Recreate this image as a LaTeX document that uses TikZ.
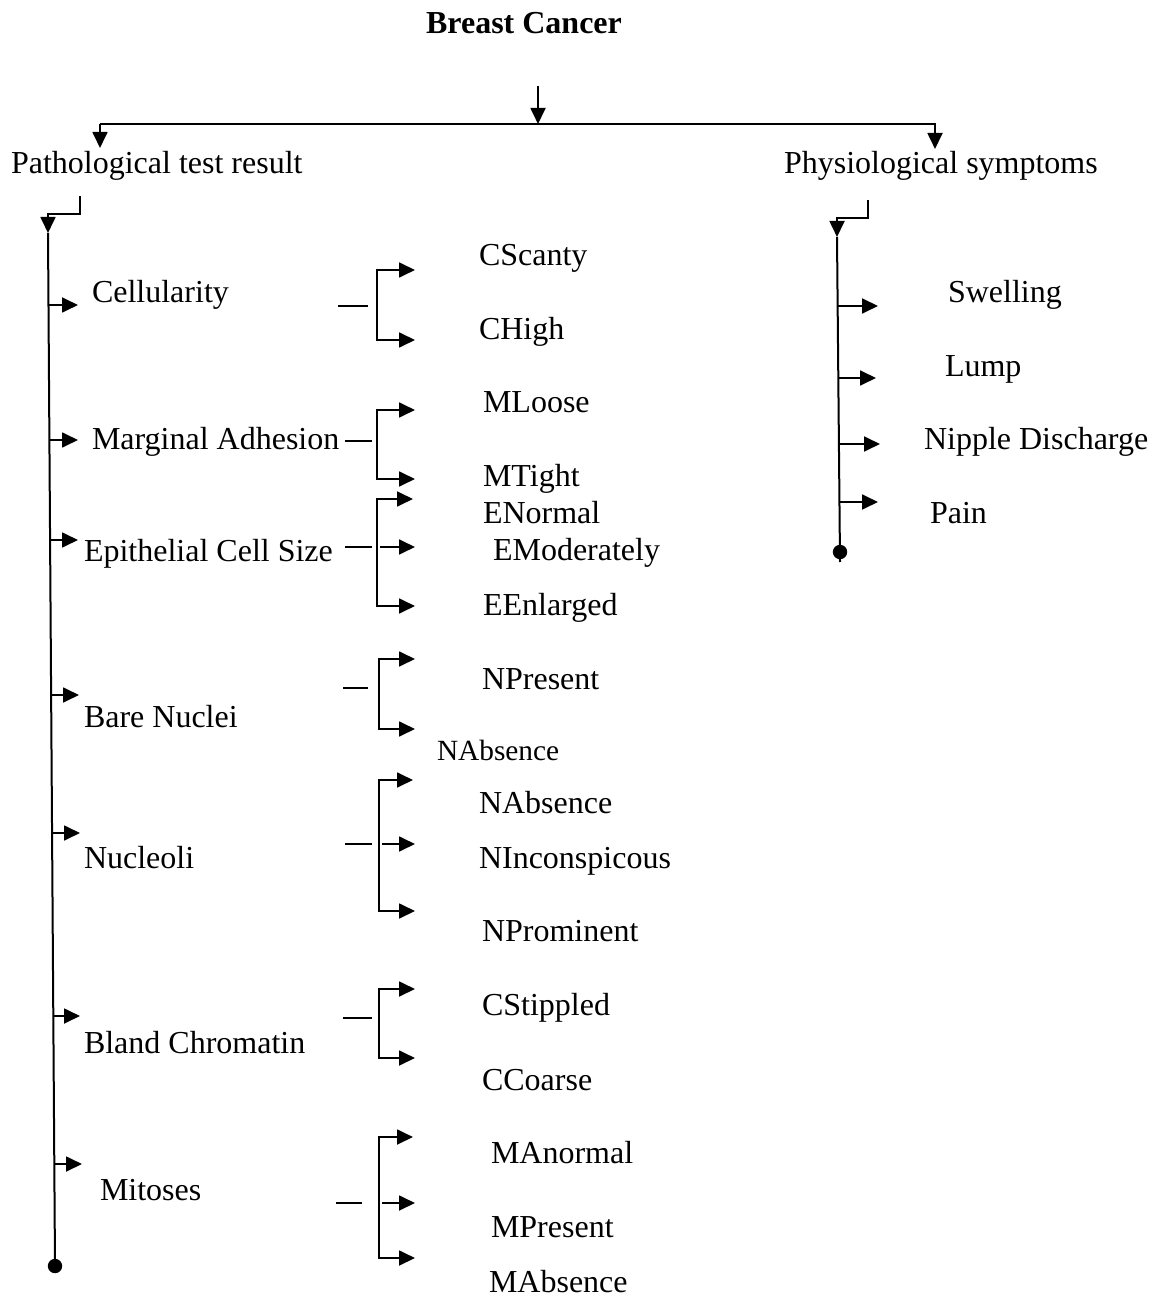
\documentclass[tikz,border=0pt]{standalone}
\usepackage{fontspec}
\setmainfont{Liberation Serif}
\usetikzlibrary{arrows.meta}
\begin{document}
\begin{tikzpicture}[x=0.375pt,y=-0.375pt,
  line width=0.75pt,
  arr/.style={-{Triangle[length=6pt,width=5.6pt]}},
  txt/.style={anchor=base west,inner sep=0pt,font=\fontsize{12}{14}\selectfont},
  smalltxt/.style={anchor=base west,inner sep=0pt,font=\fontsize{11}{13}\selectfont},
  title/.style={anchor=base,inner sep=0pt,font=\fontsize{12}{14}\selectfont\bfseries},
  enddot/.style={circle,fill,inner sep=0pt,minimum size=5.4pt}]
\useasboundingbox (0,0) rectangle (1158,1296);

% ---------- heading and first split ----------
\node[title] (root) at (524,34) {Breast Cancer};
\coordinate (rootdrop) at (538,86);
\coordinate (split) at (538,124);
\coordinate (splitL) at (100,124);
\coordinate (splitR) at (936,124);
\coordinate (pathIn) at (100,148);
\coordinate (physIn) at (935,149);
\draw[arr] (rootdrop) -- (split);
\draw (splitL) -- (splitR);
\draw[arr] (splitL) -- (pathIn);
\draw[arr] (935,124) -- (physIn);
\node[txt] (path) at (10,174) {Pathological test result};
\node[txt] (phys) at (783,174) {Physiological symptoms};

% ---------- left spine ----------
\coordinate (pE1) at (80,196);
\coordinate (pE2) at (48,214);
\coordinate (pTop) at (48,233);
\node[enddot] (pEnd) at (55,1266) {};
\draw[arr] (pE1) |- (pE2) -- (pTop);
\draw (pTop) -- (pEnd.center);

% categories
\node[txt] (cell) at (91,303) {Cellularity};
\node[txt] (marg) at (91,450) {Marginal Adhesion};
\node[txt] (epit) at (83,561) {Epithelial Cell Size};
\node[txt] (bare) at (83,727) {Bare Nuclei};
\node[txt] (nucl) at (83,868) {Nucleoli};
\node[txt] (blan) at (83,1053) {Bland Chromatin};
\node[txt] (mito) at (99,1200) {Mitoses};

\draw[arr] (48.5,305) -- (78,305);
\draw[arr] (49.4,440) -- (78,440);
\draw[arr] (50.1,540) -- (78,540);
\draw[arr] (51.2,695) -- (79,695);
\draw[arr] (52.1,833) -- (80,833);
\draw[arr] (53.3,1016) -- (80,1016);
\draw[arr] (54.4,1164) -- (82,1164);

% values
\node[txt] (cscanty) at (478,266) {CScanty};
\node[txt] (chigh) at (478,340) {CHigh};
\node[txt] (mloose) at (482,413) {MLoose};
\node[txt] (mtight) at (482,487) {MTight};
\node[txt] (enormal) at (482,523) {ENormal};
\node[txt] (emod) at (492,560) {EModerately};
\node[txt] (eenl) at (482,615) {EEnlarged};
\node[txt] (npres) at (481,689) {NPresent};
\node[smalltxt] (nabs1) at (436,760) {NAbsence};
\node[txt] (nabs2) at (478,813) {NAbsence};
\node[txt] (ninc) at (478,868) {NInconspicous};
\node[txt] (nprom) at (481,941) {NProminent};
\node[txt] (cstip) at (481,1015) {CStippled};
\node[txt] (ccoar) at (481,1090) {CCoarse};
\node[txt] (manor) at (490,1163) {MAnormal};
\node[txt] (mpres) at (490,1237) {MPresent};
\node[txt] (mabs) at (488,1292) {MAbsence};

% Cellularity bracket
\draw (338,306) -- (368,306);
\coordinate (bC) at (377,305);
\draw[arr] (bC) |- (415,270);
\draw[arr] (bC) |- (415,340);

% Marginal Adhesion bracket
\draw (345,441) -- (372,441);
\coordinate (bM) at (377,441);
\draw[arr] (bM) |- (415,410);
\draw[arr] (bM) |- (415,479);

% Epithelial Cell Size bracket
\draw (345,547) -- (372,547);
\coordinate (bE) at (377,547);
\draw[arr] (bE) |- (413,499);
\draw[arr] (bE) |- (415,606);
\draw[arr] (380,547) -- (415,547);

% Bare Nuclei bracket
\draw (343,688) -- (368,688);
\coordinate (bB) at (379,694);
\draw[arr] (bB) |- (415,659);
\draw[arr] (bB) |- (415,729);

% Nucleoli bracket
\draw (345,844) -- (372,844);
\coordinate (bN) at (379,844);
\draw[arr] (bN) |- (413,780);
\draw[arr] (bN) |- (415,911);
\draw[arr] (382,844) -- (415,844);

% Bland Chromatin bracket
\draw (343,1018) -- (372,1018);
\coordinate (bL) at (379,1018);
\draw[arr] (bL) |- (415,989);
\draw[arr] (bL) |- (415,1058);

% Mitoses bracket
\draw (336,1203) -- (362,1203);
\coordinate (bT) at (379,1203);
\draw[arr] (bT) |- (413,1137);
\draw[arr] (bT) |- (415,1258);
\draw[arr] (382,1203) -- (415,1203);

% ---------- right spine ----------
\coordinate (sE1) at (868,200);
\coordinate (sE2) at (837,218);
\coordinate (sTop) at (837,237);
\node[enddot] (sEnd) at (840,552) {};
\draw[arr] (sE1) |- (sE2) -- (sTop);
\draw (sTop) -- (840,562);

\node[txt] (swel) at (947,303) {Swelling};
\node[txt] (lump) at (944,377) {Lump};
\node[txt] (nipp) at (923,450) {Nipple Discharge};
\node[txt] (pain) at (929,523) {Pain};

\draw[arr] (838,306) -- (878,306);
\draw[arr] (838,378) -- (876,378);
\draw[arr] (839,444) -- (880,444);
\draw[arr] (839,502) -- (878,502);
\end{tikzpicture}
\end{document}
